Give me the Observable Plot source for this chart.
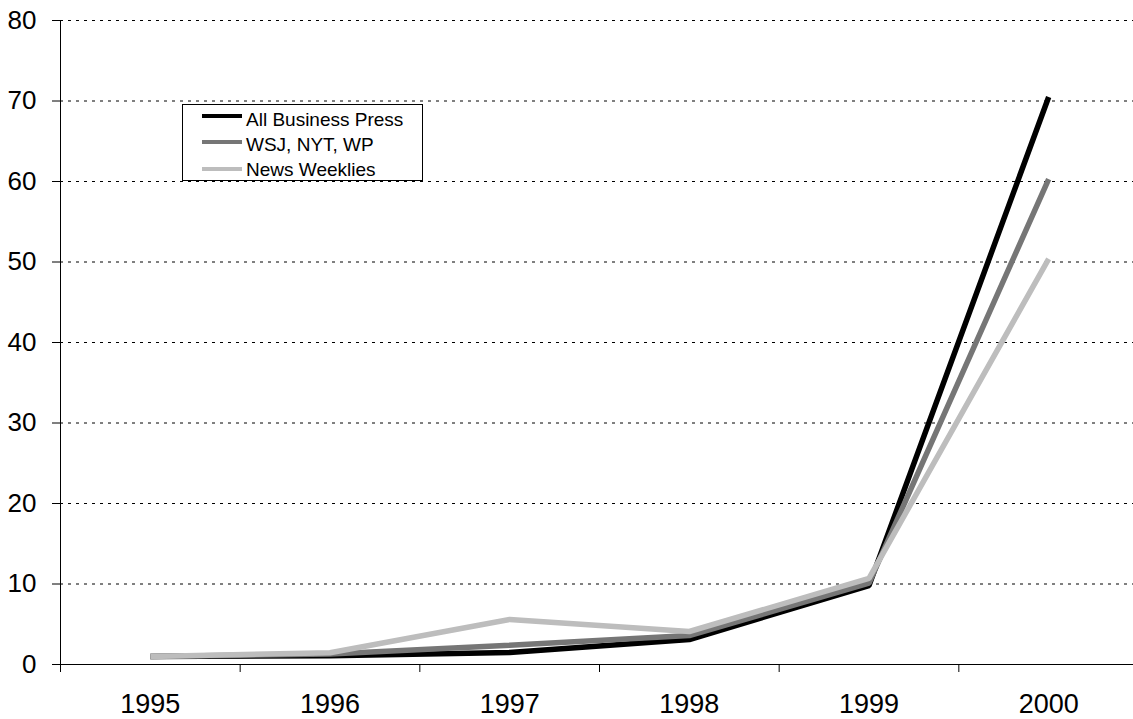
<!DOCTYPE html>
<html>
<head>
<meta charset="utf-8">
<script src="https://cdn.jsdelivr.net/npm/d3@7"></script>
<script src="https://cdn.jsdelivr.net/npm/@observablehq/plot@0.6"></script>
<style>
  html, body { margin: 0; padding: 0; background: #fff; }
  #wrap { position: relative; width: 1133px; height: 719px; overflow: hidden; font-family: "Liberation Sans", Arial, sans-serif; }
  #legend { position: absolute; left: 182px; top: 104px; width: 239px; height: 75px; border: 1px solid #000; background: #fff; }
  .swatch { position: absolute; left: 19px; width: 40px; height: 4px; }
  .label { position: absolute; left: 63px; font-size: 19px; line-height: 19px; color: #000; white-space: nowrap; }
</style>
</head>
<body>
<div id="wrap"><div id="legend"></div></div>
<script>
const years = ["1995", "1996", "1997", "1998", "1999", "2000"];
const seriesNames = ["All Business Press", "WSJ, NYT, WP", "News Weeklies"];
const allBusinessPress = [1.0, 1.1, 1.5, 3.1, 9.8, 70.5];
const wsjNytWp = [1.0, 1.3, 2.4, 3.6, 10.1, 60.3];
const newsWeeklies = [1.0, 1.45, 5.6, 4.1, 10.7, 50.4];
const yTicks = [0, 10, 20, 30, 40, 50, 60, 70, 80];

const seriesColors = ["#000000", "#767676", "#bdbdbd"];
const seriesValues = [allBusinessPress, wsjNytWp, newsWeeklies];

const rows = seriesNames.flatMap((name, s) =>
  seriesValues[s].map((v, i) => ({series: name, pos: i + 0.5, year: years[i], value: v}))
);

const chart = Plot.plot({
  width: 1133,
  height: 719,
  marginLeft: 60,
  marginTop: 20,
  marginBottom: 55,
  marginRight: 0,
  style: {fontFamily: "Liberation Sans, Arial, sans-serif", background: "white", overflow: "visible", color: "#000"},
  x: {domain: [0, years.length], range: [60, 1138]},
  y: {domain: [0, 80]},
  color: {domain: seriesNames, range: seriesColors},
  marks: [
    Plot.ruleY(yTicks.filter(d => d > 0), {stroke: "#000", strokeDasharray: "3,5", strokeWidth: 1}),
    Plot.axisY({ticks: yTicks, tickSize: 8, tickPadding: 16, fontSize: 26, label: null, tickFormat: d => String(d)}),
    Plot.axisX({ticks: d3.range(0, years.length + 1), tickSize: 8, tickFormat: () => "", label: null}),
    Plot.axisX({ticks: years.map((d, i) => i + 0.5), tickSize: 0, tickPadding: 29, fontSize: 27, label: null, tickFormat: d => years[Math.round(d - 0.5)]}),
    Plot.ruleX([0], {stroke: "#000"}),
    Plot.ruleY([0], {stroke: "#000"}),
    Plot.line(rows, {x: "pos", y: "value", z: "series", stroke: "series", strokeWidth: 5.5, strokeLinejoin: "miter", strokeLinecap: "butt"})
  ]
});
document.getElementById("wrap").insertBefore(chart, document.getElementById("legend"));

const legend = document.getElementById("legend");
const swatchTops = [8.5, 35, 61.5];
const labelTops = [5, 30, 54.5];
seriesNames.forEach((name, i) => {
  const sw = document.createElement("div");
  sw.className = "swatch";
  sw.style.top = swatchTops[i] + "px";
  sw.style.background = seriesColors[i];
  legend.appendChild(sw);
  const lb = document.createElement("div");
  lb.className = "label";
  lb.style.top = labelTops[i] + "px";
  lb.textContent = name;
  legend.appendChild(lb);
});
</script>
</body>
</html>
